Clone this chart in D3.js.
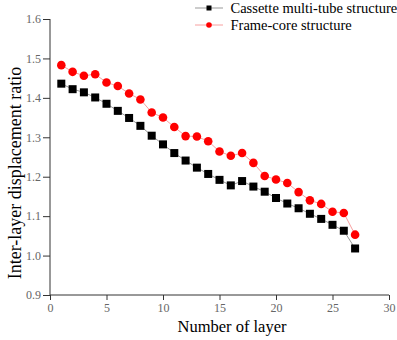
<!DOCTYPE html>
<html><head><meta charset="utf-8">
<script src="https://cdn.jsdelivr.net/npm/d3@7"></script>
<style>body{margin:0;background:#fff}</style>
</head><body>
<svg id="c" width="397" height="340"></svg>
<script>
const layers = d3.range(1, 28);
const cassette = [1.436,1.422,1.414,1.401,1.385,1.367,1.349,1.329,1.304,1.282,1.260,1.241,1.223,1.207,1.192,1.178,1.189,1.175,1.162,1.146,1.132,1.120,1.106,1.093,1.078,1.063,1.018];
const frame = [1.483,1.466,1.456,1.460,1.439,1.430,1.411,1.396,1.363,1.350,1.326,1.303,1.302,1.290,1.264,1.253,1.260,1.235,1.202,1.193,1.184,1.161,1.140,1.131,1.111,1.108,1.053];
const xTicks = [0,5,10,15,20,25,30];
const yTicks = [0.9,1.0,1.1,1.2,1.3,1.4,1.5,1.6];
const seriesNames = ["Cassette multi-tube structure","Frame-core structure"];

const svg = d3.select("#c");
const x = d3.scaleLinear().domain([0,30]).range([50,389]);
const y = d3.scaleLinear().domain([0.9,1.6]).range([295,19]);
const axisCol = "#333";
const serif = "'Liberation Serif', 'DejaVu Serif', serif";

// minor ticks
const gx = svg.append("g").attr("transform","translate(0,295)");
gx.call(d3.axisBottom(x).tickValues(d3.range(2.5,30,5)).tickSize(3).tickFormat(""));
gx.call(d3.axisBottom(x).tickValues(xTicks).tickSize(5).tickFormat(d=>d));
gx.selectAll("path.domain").remove();
const gy = svg.append("g").attr("transform","translate(50,0)");
gy.call(d3.axisLeft(y).tickValues(d3.range(0.95,1.6,0.1)).tickSize(3).tickFormat(""));
gy.call(d3.axisLeft(y).tickValues(yTicks).tickSize(7).tickFormat(d3.format(".1f")));
gy.selectAll("path.domain").remove();
svg.selectAll(".tick line").attr("stroke",axisCol);
svg.selectAll(".tick text").attr("font-family",serif).attr("font-size",12).attr("fill","#666");
gy.selectAll(".tick text").attr("x",-9);
gx.selectAll(".tick text").attr("y",8);
svg.append("line").attr("x1",50).attr("x2",389).attr("y1",295).attr("y2",295).attr("stroke",axisCol);
svg.append("line").attr("x1",50).attr("x2",50).attr("y1",19).attr("y2",296).attr("stroke",axisCol);

// lines
const line = d3.line().x((d,i)=>x(layers[i])).y(d=>y(d));
svg.append("path").datum(cassette).attr("d",line).attr("fill","none").attr("stroke","#999").attr("stroke-width",1);
svg.append("path").datum(frame).attr("d",line).attr("fill","none").attr("stroke","#f7a0a0").attr("stroke-width",1);

svg.append("g").selectAll("rect").data(cassette).join("rect")
  .attr("x",(d,i)=>x(layers[i])-4).attr("y",d=>y(d)-4).attr("width",8).attr("height",8).attr("fill","#000");
svg.append("g").selectAll("circle").data(frame).join("circle")
  .attr("cx",(d,i)=>x(layers[i])).attr("cy",d=>y(d)).attr("r",4.3).attr("fill","#ff0000");

// legend
const lg = svg.append("g");
lg.append("line").attr("x1",195).attr("x2",223).attr("y1",8).attr("y2",8).attr("stroke","#999");
lg.append("rect").attr("x",206.5).attr("y",5.5).attr("width",5).attr("height",5).attr("fill","#000");
lg.append("line").attr("x1",195).attr("x2",223).attr("y1",25).attr("y2",25).attr("stroke","#f7a0a0");
lg.append("circle").attr("cx",209).attr("cy",25).attr("r",2.8).attr("fill","#ff0000");
lg.append("text").attr("x",230.5).attr("y",13).text(seriesNames[0]).attr("font-family",serif).attr("font-size",14.5).attr("fill","#000");
lg.append("text").attr("x",230.5).attr("y",30).text(seriesNames[1]).attr("font-family",serif).attr("font-size",14.5).attr("fill","#000");

// titles
svg.append("text").attr("x",232).attr("y",332).attr("text-anchor","middle").attr("font-family",serif).attr("font-size",16.5).text("Number of layer");
svg.append("text").attr("transform","translate(21,173) rotate(-90)").attr("text-anchor","middle").attr("font-family",serif).attr("font-size",18).text("Inter-layer displacement ratio");
</script>
</body></html>
